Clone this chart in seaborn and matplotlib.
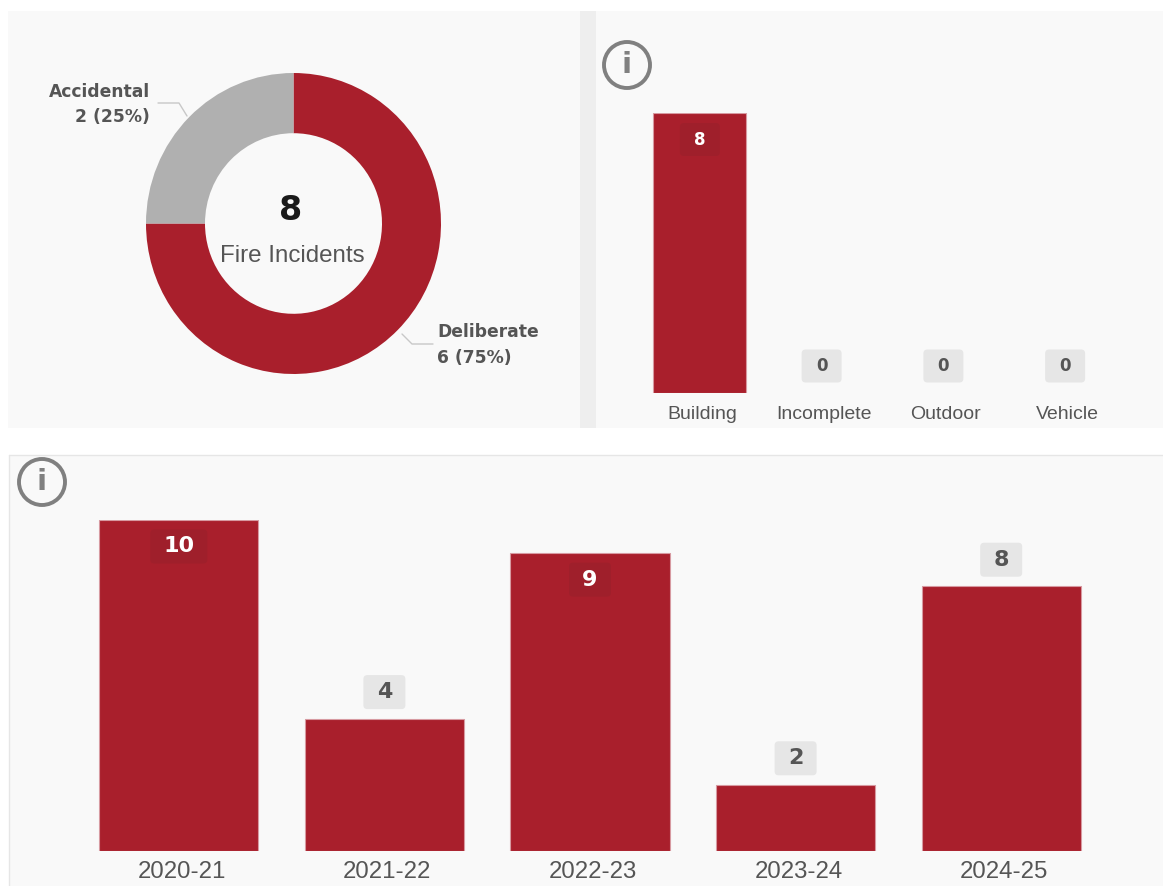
import matplotlib
matplotlib.use("Agg")
import matplotlib.pyplot as plt
import pandas as pd
import seaborn as sns
from matplotlib.patches import Rectangle, FancyBboxPatch, Circle
from matplotlib.transforms import ScaledTranslation

donut_labels = ["Deliberate", "Accidental"]
donut_values = [6, 2]
type_labels = ["Building", "Incomplete", "Outdoor", "Vehicle"]
type_values = [8, 0, 0, 0]
year_labels = ["2020-21", "2021-22", "2022-23", "2023-24", "2024-25"]
year_values = [10, 4, 9, 2, 8]

RED = "#A91F2C"
DARK = "#9F1F2B"
EDGE = "#D79AA1"
GREY = "#B0B0B0"
TXT = "#555555"
BOLD = ["DejaVu Sans"]
W, H = 1163, 886
sns.set_theme(style="white")
plt.rcParams["font.family"] = ["Liberation Sans", "DejaVu Sans"]

fig = plt.figure(figsize=(W / 100, H / 100), dpi=100, facecolor="white")

def axpx(x0, y0, x1, y1, **kw):
    return fig.add_axes([x0 / W, 1 - y1 / H, (x1 - x0) / W, (y1 - y0) / H], **kw)

bg = axpx(0, 0, W, H)
bg.set_xlim(0, W); bg.set_ylim(H, 0); bg.axis("off")
bg.set_zorder(0)
top = axpx(0, 0, W, H)
top.set_xlim(0, W); top.set_ylim(H, 0); top.axis("off")
top.patch.set_alpha(0)
top.set_zorder(5)

for (x, y, w, h, c) in [(8, 11, 572, 417, "#F9F9F9"), (580, 11, 16, 417, "#EEEEEE"),
                        (596, 11, 567, 417, "#F9F9F9"), (9, 455, 1154, 431, "#F9F9F9")]:
    bg.add_patch(Rectangle((x, y), w, h, fc=c, ec="none"))
bg.plot([9, 1163], [455, 455], color="#E6E6E6", lw=1)
bg.plot([9, 9], [455, 886], color="#E6E6E6", lw=1)

def info(cx, cy, r):
    bg.add_patch(Circle((cx, cy), r, fc="none", ec="#808080", lw=2.8))
    bg.text(cx, cy, "i", ha="center", va="center", fontsize=21, fontweight="bold", color="#808080",
            family=BOLD)
info(627, 65, 23)
info(42, 482, 23)

# donut
dax = axpx(146, 73, 441, 374)
dax.pie(donut_values, colors=[RED, GREY], startangle=90, counterclock=False,
        radius=1, wedgeprops=dict(width=0.4, edgecolor="none"))
dax.set_aspect("auto")
dax.set_xlim(-1, 1); dax.set_ylim(-1, 1); dax.axis("off")
dax.patch.set_alpha(0)
dax.set_zorder(1)
top.text(291, 210, "8", ha="center", va="center", fontsize=24, fontweight="bold", color="#1A1A1A",
         family=BOLD)
top.text(292, 256, "Fire Incidents", ha="center", va="center", fontsize=17.4, color=TXT)
bg.plot([158, 179, 187], [103, 103, 116], color="#C8C8C8", lw=1)
bg.plot([402, 412, 433], [334, 344, 344], color="#C8C8C8", lw=1)
for (x, y, s, ha) in [(150, 92, "Accidental", "right"), (150, 117, "2 (25%)", "right"),
                      (437, 332, "Deliberate", "left"), (437, 358, "6 (75%)", "left")]:
    bg.text(x, y, s, ha=ha, va="center", fontsize=12.3, fontweight="bold", color=TXT, family=BOLD)

def bars(box, labels, values, ymax, width, lab_fs, pad, dx):
    ax = axpx(*box)
    ax.patch.set_alpha(0)
    ax.set_zorder(1)
    df = pd.DataFrame({"label": labels, "value": values})
    sns.barplot(df, x="label", y="value", color=RED, saturation=1, width=width, ax=ax,
                edgecolor=EDGE, linewidth=0.8)
    for p in ax.patches:
        if p.get_height() == 0:
            p.set_visible(False)
    ax.set_ylim(0, ymax)
    ax.set_xlabel(""); ax.set_ylabel(""); ax.set_yticks([])
    ax.tick_params(axis="x", length=0, labelsize=lab_fs, labelcolor=TXT, pad=pad)
    sns.despine(ax=ax, left=True, bottom=True)
    for t in ax.get_xticklabels():
        t.set_transform(t.get_transform() + ScaledTranslation(dx / 100, 0, fig.dpi_scale_trans))
    return ax

def badge(box, n, x, v, ymax, inside, txt_fs, w, h, off):
    ph = box[3] - box[1]
    cy = box[3] - v / ymax * ph + (off if inside else -off)
    cx = box[0] + (x + 0.5) / n * (box[2] - box[0])
    s = str(v)
    bw = w * (1.36 if len(s) > 1 else 1)
    fc, tc = (DARK, "white") if inside else ("#E6E6E6", TXT)
    top.add_patch(FancyBboxPatch((cx - bw / 2, cy - h / 2), bw, h,
                                 boxstyle="round,pad=0,rounding_size=4", fc=fc, ec="none"))
    top.text(cx, cy, s, ha="center", va="center", fontsize=txt_fs, fontweight="bold",
             color=tc, family=BOLD)

box1 = (639, 113, 1126, 392.5)
ax1 = bars(box1, type_labels, type_values, 8, 0.765, 14, 9.5, 2)
for i, v in enumerate(type_values):
    badge(box1, 4, i, v, 8, v > 0, 12, 40, 33, 26.5)

box2 = (76, 520, 1104, 851)
ax2 = bars(box2, year_labels, year_values, 10, 0.775, 17.3, 7, 3)
for i, v in enumerate(year_values):
    badge(box2, 5, i, v, 10, v >= 9, 16, 42, 34, 26.5)

fig.savefig("out.png", dpi=100)
